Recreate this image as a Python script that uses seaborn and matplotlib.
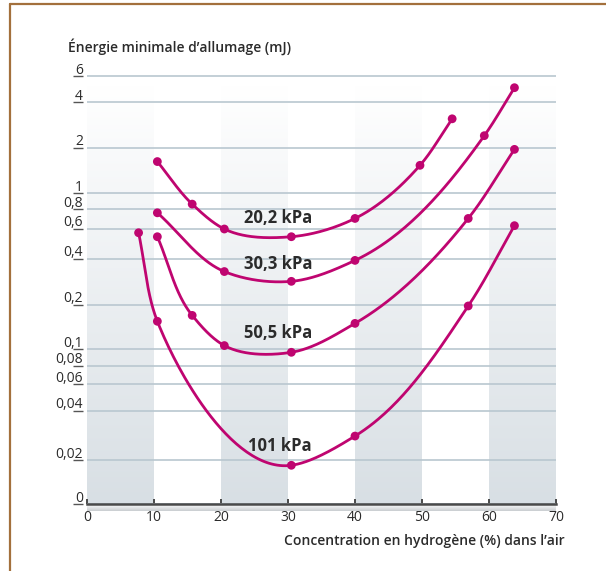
import numpy as np
import pandas as pd
import matplotlib
matplotlib.use("Agg")
import matplotlib.pyplot as plt
from matplotlib.colors import LinearSegmentedColormap
from matplotlib.lines import Line2D
from matplotlib.transforms import ScaledTranslation
import seaborn as sns

# ---- data -------------------------------------------------------------
pressures = ["20,2 kPa", "30,3 kPa", "50,5 kPa", "101 kPa"]

h2_20 = [10.5, 15.7, 20.5, 30.5, 40.0, 49.7, 54.5]
e_20 = [1.62, 0.86, 0.60, 0.54, 0.70, 1.53, 3.1]

h2_30 = [10.5, 20.5, 30.5, 40.0, 59.3, 63.8]
e_30 = [0.76, 0.33, 0.285, 0.39, 2.4, 5.0]

h2_50 = [10.5, 15.7, 20.5, 30.5, 40.0, 56.9, 63.8]
e_50 = [0.54, 0.17, 0.106, 0.096, 0.15, 0.70, 1.95]

h2_101 = [7.7, 10.5, 30.5, 40.0, 56.9, 63.8]
e_101 = [0.57, 0.155, 0.0184, 0.028, 0.197, 0.63]

y_ticks = [0.01, 0.02, 0.04, 0.06, 0.08, 0.1, 0.2, 0.4, 0.6, 0.8, 1, 2, 4, 6]
y_tick_labels = ["0", "0,02", "0,04", "0,06", "0,08", "0,1", "0,2", "0,4",
                 "0,6", "0,8", "1", "2", "4", "6"]
x_ticks = [0, 10, 20, 30, 40, 50, 60, 70]

label_x = 33.6
label_y = [0.705, 0.37, 0.129, 0.0243]

# ---- energy gauge: graduated, roughly logarithmic vertical scale ------
gauge_vals = np.array([1e-4, 0.01, 0.02, 0.04, 0.06, 0.08, 0.1, 0.2, 0.4,
                       0.6, 0.8, 1, 2, 4, 6, 100])
gauge_h = np.array([-310, 0, 44, 93.3, 119.7, 138.3, 154.7, 199, 245.3,
                    275, 294.7, 310.7, 356.3, 402, 428, 617])
gauge_log = np.log10(gauge_vals)


def gauge_fwd(v):
    v = np.asarray(v, dtype=float)
    return np.interp(np.log10(np.clip(v, 1e-12, None)), gauge_log, gauge_h)


def gauge_inv(h):
    return 10 ** np.interp(np.asarray(h, dtype=float), gauge_h, gauge_log)


def catmull_rom(pts, n=60, alpha=1.0):
    """Smooth curve through points (chordal Catmull-Rom)."""
    pts = np.asarray(pts, float)
    ext = np.vstack([2 * pts[0] - pts[1], pts, 2 * pts[-1] - pts[-2]])
    out = []
    for i in range(len(pts) - 1):
        p0, p1, p2, p3 = ext[i:i + 4]
        t0 = 0.0
        t1 = t0 + np.linalg.norm(p1 - p0) ** alpha
        t2 = t1 + np.linalg.norm(p2 - p1) ** alpha
        t3 = t2 + np.linalg.norm(p3 - p2) ** alpha
        t = np.linspace(t1, t2, n)[:, None]
        a1 = (t1 - t) / (t1 - t0) * p0 + (t - t0) / (t1 - t0) * p1
        a2 = (t2 - t) / (t2 - t1) * p1 + (t - t1) / (t2 - t1) * p2
        a3 = (t3 - t) / (t3 - t2) * p2 + (t - t2) / (t3 - t2) * p3
        b1 = (t2 - t) / (t2 - t0) * a1 + (t - t0) / (t2 - t0) * a2
        b2 = (t3 - t) / (t3 - t1) * a2 + (t - t1) / (t3 - t1) * a3
        c = (t2 - t) / (t2 - t1) * b1 + (t - t1) / (t2 - t1) * b2
        out.append(c if i == 0 else c[1:])
    return np.vstack(out)


# ---- styling ----------------------------------------------------------
sns.set_theme(style="white")
plt.rcParams["font.family"] = ["Open Sans", "DejaVu Sans"]

MAGENTA = "#bf0570"
TEXT = "#2b2b2b"
GRID = "#b9c7d0"

W, H = 606, 571
fig = plt.figure(figsize=(W / 100, H / 100), dpi=100)
fig.patch.set_facecolor("white")

y_top = gauge_inv(428 + 1.7)
rect = [87 / W, (H - 504) / H, (556 - 87) / W, (504 - 74.3) / H]

# background: shaded columns fading to white at the top
bg = fig.add_axes(rect, zorder=0)
band_cmap = LinearSegmentedColormap.from_list("band", ["#d8dfe4", "#ffffff"])
grad = np.linspace(1, 0, 256)[:, None]
band_top = (504 - 86) / (504 - 74.3)
for x0 in [0, 20, 40, 60]:
    bg.imshow(grad, extent=(x0, x0 + 10, 0, band_top), cmap=band_cmap,
              vmin=0, vmax=1, aspect="auto", interpolation="bilinear")
shadow_cmap = LinearSegmentedColormap.from_list("shadow", ["#ffffff", "#c9cdd0"])
shadow = np.linspace(0, 1, 64)[:, None]
bg.imshow(shadow, extent=(0, 70, -7 / (504 - 74.3), 0), cmap=shadow_cmap,
          vmin=0, vmax=1, aspect="auto", interpolation="bilinear", clip_on=False)
bg.set_xlim(0, 70)
bg.set_ylim(0, 1)
bg.axis("off")

# main axes
ax = fig.add_axes(rect, zorder=1)
ax.patch.set_alpha(0)
ax.set_yscale("function", functions=(gauge_fwd, gauge_inv))
ax.set_xlim(0, 70)
ax.set_ylim(0.01, y_top)
ax.autoscale(False)

ax.set_yticks(y_ticks, y_tick_labels)
ax.yaxis.set_minor_locator(matplotlib.ticker.NullLocator())
ax.set_xticks(x_ticks, [str(v) for v in x_ticks])
ax.xaxis.set_minor_locator(matplotlib.ticker.NullLocator())

ax.yaxis.grid(True, color=GRID, lw=1.2)
ax.xaxis.grid(False)
ax.set_axisbelow(True)

for side in ["top", "right"]:
    ax.spines[side].set_visible(False)
ax.spines["left"].set_position(("outward", 2.9))
ax.spines["left"].set_visible(False)
ax.spines["bottom"].set_color("#4a4a4a")
ax.spines["bottom"].set_linewidth(1.8)

ax.tick_params(axis="y", left=True, direction="out", length=7.2, width=1.0,
               color="#555555", pad=-7.2, labelsize=10, labelcolor=TEXT)
ax.tick_params(axis="x", bottom=True, direction="in", length=3.5, width=1.4,
               color="#4a4a4a", pad=4.5, labelsize=10, labelcolor=TEXT)
# values sit just above their tick, which underlines them
lift = ScaledTranslation(0, 2.5 / 100, fig.dpi_scale_trans)
for lab in ax.get_yticklabels():
    lab.set_verticalalignment("baseline")
    lab.set_transform(lab.get_transform() + lift)

# curves and measured points
series = [(h2_20, e_20), (h2_30, e_30), (h2_50, e_50), (h2_101, e_101)]
frames = []
for name, (xs, ys) in zip(pressures, series):
    disp = ax.transData.transform(np.column_stack([xs, ys]))
    smooth = ax.transData.inverted().transform(catmull_rom(disp))
    sns.lineplot(x=smooth[:, 0], y=smooth[:, 1], ax=ax, color=MAGENTA,
                 lw=2.0, sort=False, estimator=None, zorder=3)
    frames.append(pd.DataFrame({"h2": xs, "energie": ys, "pression": name}))
points = pd.concat(frames, ignore_index=True)
sns.scatterplot(data=points, x="h2", y="energie", ax=ax, color=MAGENTA,
                s=40, edgecolor="none", zorder=4, legend=False)

for name, ly in zip(pressures, label_y):
    ax.text(label_x, ly, name, ha="right", va="center", fontsize=12,
            fontweight="bold", color=TEXT, zorder=5)

ax.set_xlim(0, 70)
ax.set_ylim(0.01, y_top)
ax.set_xlabel("")
ax.set_ylabel("")

fig.text(68 / W, 1 - 47 / H, "Énergie minimale d’allumage (mJ)", ha="left",
         va="center", fontsize=10, fontweight="semibold", color=TEXT)
fig.text(565 / W, 1 - 541 / H, "Concentration en hydrogène (%) dans l’air",
         ha="right", va="center", fontsize=10, fontweight="semibold", color=TEXT)

# page frame
fig.add_artist(Line2D([9.5 / W, 1], [1 - 3.5 / H] * 2, color="#a3703c",
                      lw=1.6, transform=fig.transFigure))
fig.add_artist(Line2D([9.5 / W] * 2, [0, 1 - 3.5 / H], color="#a3703c",
                      lw=1.6, transform=fig.transFigure))

fig.savefig("out.png", dpi=100)
